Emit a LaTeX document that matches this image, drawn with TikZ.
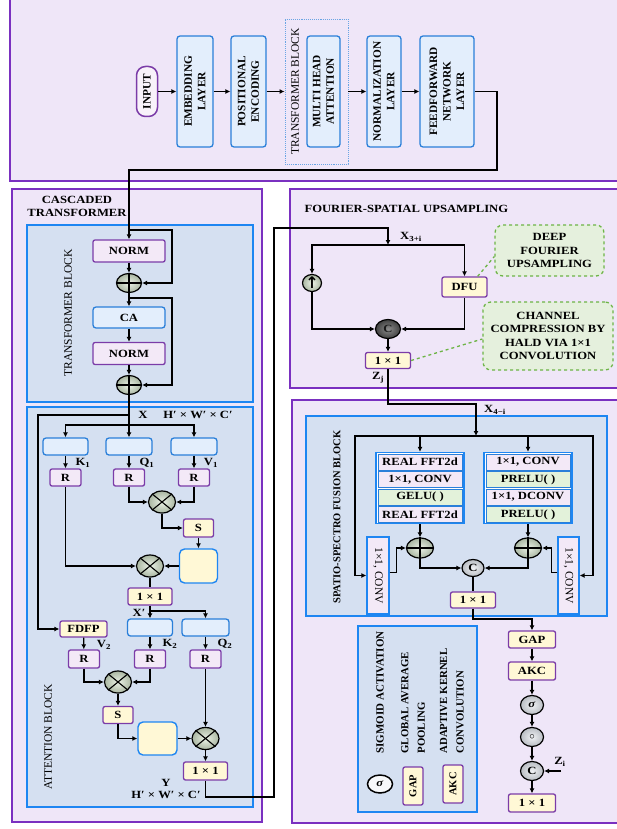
\documentclass[tikz,border=0pt]{standalone}
\usepackage{fontspec}
\setmainfont{Liberation Serif}[FakeStretch=1.15]
\newfontfamily\rotfont{Liberation Serif}
\newfontfamily\symfont{DejaVu Sans}
\usetikzlibrary{arrows.meta,shapes.geometric}
\definecolor{lav}{HTML}{EFE6F8}
\definecolor{pp}{HTML}{7A30C0}
\definecolor{blk}{HTML}{D5E0F1}
\definecolor{bb}{HTML}{1E86F2}
\definecolor{lb}{HTML}{E3EEFC}
\definecolor{bb2}{HTML}{2A7FD9}
\definecolor{lp}{HTML}{F3E9F7}
\definecolor{pb}{HTML}{7B3CA8}
\definecolor{yl}{HTML}{FFF8D6}
\definecolor{gc}{HTML}{D4E4CA}
\definecolor{gr}{HTML}{E3F2DA}
\definecolor{cof}{HTML}{E5F0DD}
\definecolor{cob}{HTML}{6DB446}
\definecolor{lg}{HTML}{D9DEE5}
\newcommand\myplus[1]{\draw[line width=1.1pt] (#1.north) -- (#1.south) (#1.west) -- (#1.east);}
\newcommand\mytimes[1]{\draw[line width=1.1pt] (#1.north east) -- (#1.south west) (#1.north west) -- (#1.south east);}
\begin{document}
\begin{tikzpicture}[x=1pt,y=-1pt,
 every node/.style={font=\bfseries\fontsize{11}{13}\selectfont},
 panel/.style={draw=pp,line width=1.8pt,fill=lav},
 block/.style={draw=bb,line width=1.4pt,fill=blk},
 bx/.style={draw=bb2,line width=1.3pt,fill=lb,rounded corners=3pt,inner sep=0pt},
 pbx/.style={draw=pb,line width=1.3pt,fill=lp,rounded corners=2pt,inner sep=0pt},
 ybx/.style={draw=pb,line width=1.3pt,fill=yl,rounded corners=2pt,inner sep=0pt},
 bigy/.style={draw=bb,line width=1.4pt,fill=yl,rounded corners=5pt,inner sep=0pt},
 opc/.style={ellipse,draw=black,line width=1.2pt,inner color=gc!45!white,outer color=gc!80!black,inner sep=0pt,minimum width=27pt,minimum height=22pt},
 gcirc/.style={ellipse,draw=black,line width=1.2pt,inner color=lg!40!white,outer color=lg!85!black,inner sep=0pt,minimum width=23pt,minimum height=19pt},
 srow/.style={draw=bb2,line width=0.9pt,fill=lp,minimum width=84pt,minimum height=16pt,inner sep=0pt},
 gsrow/.style={srow,fill=gr},
 rot/.style={rotate=90,align=center,font=\rotfont\bfseries\fontsize{10.5}{13.5}\selectfont},
 rott/.style={rotate=90,align=center,font=\rotfont\bfseries\fontsize{11.3}{13.5}\selectfont},
 rotr/.style={rotate=90,align=center,font=\rotfont\fontsize{11.5}{13}\selectfont},
 cbox/.style={draw=cob,dashed,line width=1.3pt,fill=cof,rounded corners=8pt,align=center,inner sep=0pt,font=\bfseries\fontsize{11}{13.5}\selectfont},
 dsh/.style={draw=cob,dashed,line width=1.3pt},
 arr/.style={-{Latex[length=5pt,width=5pt]},line width=1.2pt},
 ln/.style={line width=1.2pt},
 sm/.style={font=\bfseries\fontsize{11}{12}\selectfont,inner sep=0pt}
]
\useasboundingbox (0,0) rectangle (616,829);
\fill[white] (0,0) rectangle (616,829);

% ---------- panels ----------
\draw[panel] (10,-6) rectangle (634,181);
\draw[panel] (12,189) rectangle (262,822);
\draw[panel] (290,189) rectangle (634,388);
\draw[panel] (292,400) rectangle (634,823);
\draw[block] (27,225) rectangle (253,402);
\draw[block] (27,407) rectangle (253,807);
\draw[block] (306,416) rectangle (607,616);
\draw[block] (358,626) rectangle (477,812);

% ---------- top panel ----------
\node[draw=pb,line width=1.5pt,fill=lp!60,rounded corners=9pt,minimum width=21pt,minimum height=50pt,inner sep=0pt] (inp) at (147,91.5) {};
\node[rott] (inpt) at (inp) {INPUT};
\node[bx,minimum width=36pt,minimum height=111pt] (emb) at (195,91.5) {};
\node[rott] (embt) at (emb) {EMBEDDING\\LAYER};
\node[bx,minimum width=35pt,minimum height=111pt] (pos) at (248.5,91.5) {};
\node[rott] (post) at (pos) {POSITIONAL\\ENCODING};
\node[draw=bb2!70,densely dotted,line width=0.9pt,minimum width=63pt,minimum height=145pt,inner sep=0pt] (tbk) at (316.5,91.5) {};
\node[rotr] (tbkt) at (295,91.5) {TRANSFORMER BLOCK};
\node[bx,minimum width=33pt,minimum height=111pt] (mha) at (323.5,91.5) {};
\node[rott] (mhat) at (mha) {MULTI HEAD\\ATTENTION};
\node[bx,minimum width=34pt,minimum height=111pt] (nl) at (384,91.5) {};
\node[rott] (nlt) at (nl) {NORMALIZATION\\LAYER};
\node[bx,minimum width=54pt,minimum height=111pt] (ffn) at (447,91.5) {};
\node[rott] (ffnt) at (ffn) {FEEDFORWARD\\NETWORK\\LAYER};

% ---------- cascaded transformer ----------
\node[align=center,font=\bfseries\fontsize{11}{13}\selectfont] (ctt) at (77,206) {CASCADED\\TRANSFORMER};
\node[rotr] (tbt) at (68,313) {TRANSFORMER BLOCK};
\node[pbx,minimum width=72pt,minimum height=22pt] (n1) at (129,251) {NORM};
\node[opc,minimum width=25pt,minimum height=19pt] (p1) at (129,283) {};
\node[bx,minimum width=72pt,minimum height=21pt] (ca) at (129,317.5) {CA};
\node[pbx,minimum width=72pt,minimum height=22pt] (n2) at (129,353.5) {NORM};
\node[opc,minimum width=25pt,minimum height=19pt] (p2) at (129,385) {};
\myplus{p1}\myplus{p2}
\coordinate (s1) at (129,230);
\coordinate (s2) at (129,298);

\node[rotr] (abt) at (48,737) {ATTENTION BLOCK};
\coordinate (a0) at (129,415);
\coordinate (a1) at (129,425);
\node[sm] (xl) at (143,415) {X};
\node[sm] (hw1) at (198,415) {H′ × W′ × C′};
\node[bx,minimum width=45pt,minimum height=17pt] (kb) at (65.5,446.5) {};
\node[bx,minimum width=46pt,minimum height=17pt] (qb) at (129,446.5) {};
\node[bx,minimum width=46pt,minimum height=17pt] (vb) at (194,446.5) {};
\node[pbx,minimum width=31pt,minimum height=17pt] (kr) at (65.5,477.5) {R};
\node[pbx,minimum width=31pt,minimum height=17pt] (qr) at (129,477.5) {R};
\node[pbx,minimum width=31pt,minimum height=17pt] (vr) at (194,477.5) {R};
\node[sm] (k1l) at (83,463) {K\textsubscript{1}};
\node[sm] (q1l) at (147,463) {Q\textsubscript{1}};
\node[sm] (v1l) at (211,463) {V\textsubscript{1}};
\node[opc] (m1) at (162,502) {};
\node[ybx,minimum width=30pt,minimum height=18pt] (sb1) at (198.5,528) {S};
\node[bigy,minimum width=38pt,minimum height=34pt] (bg1) at (198.5,566) {};
\node[opc] (m2) at (150,566) {};
\node[ybx,minimum width=44pt,minimum height=17pt] (c1) at (150,596.5) {1 × 1};
\coordinate (x1) at (150,611);
\node[sm] (xpl) at (139,613) {X′};
\node[bx,minimum width=45pt,minimum height=17pt] (k2b) at (150,627.5) {};
\node[bx,minimum width=47pt,minimum height=17pt] (q2b) at (205.5,627.5) {};
\node[ybx,minimum width=47pt,minimum height=16pt] (fdfp) at (83.5,629) {FDFP};
\node[pbx,minimum width=31pt,minimum height=18pt] (v2r) at (84,659) {R};
\node[pbx,minimum width=31pt,minimum height=18pt] (k2r) at (150,659) {R};
\node[pbx,minimum width=31pt,minimum height=18pt] (q2r) at (205.5,659) {R};
\node[sm] (v2l) at (104,645) {V\textsubscript{2}};
\node[sm] (k2l) at (170,644) {K\textsubscript{2}};
\node[sm] (q2l) at (225,644) {Q\textsubscript{2}};
\node[opc] (m3) at (118,682) {};
\node[ybx,minimum width=30pt,minimum height=17pt] (sb2) at (118,715) {S};
\node[bigy,minimum width=39pt,minimum height=33pt] (bg2) at (157.5,738.5) {};
\node[opc] (m4) at (205.5,738.5) {};
\node[ybx,minimum width=44pt,minimum height=18pt] (c2) at (205.5,771) {1 × 1};
\node[sm] (yl) at (166,783) {Y};
\node[sm] (hw2) at (166,795) {H′ × W′ × C′};
\mytimes{m1}\mytimes{m2}\mytimes{m3}\mytimes{m4}

% ---------- fourier-spatial upsampling ----------
\node[anchor=west] (fst) at (301,209) {FOURIER-SPATIAL UPSAMPLING};
\coordinate (fs) at (388,245);
\node[sm] (x3l) at (411,237) {X\textsubscript{3+i}};
\node[opc,minimum width=19pt,minimum height=17pt,font=\symfont\bfseries\fontsize{16}{16}\selectfont] (upc) at (312,283) {↑};
\node[ybx,minimum width=45pt,minimum height=20pt] (dfu) at (464.5,287) {DFU};
\node[ellipse,draw=black,line width=1.2pt,inner color=black!45,outer color=black!75,text=black!90,inner sep=0pt,minimum width=25pt,minimum height=19pt] (cc) at (388,329) {C};
\node[ybx,minimum width=45pt,minimum height=16pt] (c3) at (388,360.5) {1 × 1};
\node[sm] (zjl) at (378,378) {Z\textsubscript{j}};
\node[cbox,minimum width=109pt,minimum height=51pt] (cl1) at (549.5,250.5) {DEEP\\FOURIER\\UPSAMPLING};
\node[cbox,minimum width=130pt,minimum height=68pt] (cl2) at (548,336) {CHANNEL\\COMPRESSION BY\\HALD VIA 1×1\\CONVOLUTION};

% ---------- spatio-spectro fusion ----------
\node[rot,font=\rotfont\bfseries\fontsize{10.5}{12}\selectfont] (sst) at (337,517) {SPATIO-SPECTRO FUSION BLOCK};
\coordinate (ssp) at (476,436);
\node[sm] (x4l) at (495,410) {X\textsubscript{4−i}};
\node[draw=bb,line width=1.3pt,fill=white,minimum width=88pt,minimum height=71pt,inner sep=0pt] (lst) at (420,488) {};
\node[srow] (l1) at (420,462) {REAL FFT2d};
\node[srow] (l2) at (420,479.5) {1×1, CONV};
\node[gsrow] (l3) at (420,497) {GELU( )};
\node[srow] (l4) at (420,514.5) {REAL FFT2d};
\node[draw=bb,line width=1.3pt,fill=white,minimum width=88pt,minimum height=71pt,inner sep=0pt] (rst) at (528,488) {};
\node[srow] (r1) at (528,462) {1×1, CONV};
\node[gsrow] (r2) at (528,479.5) {PRELU( )};
\node[srow] (r3) at (528,497) {1×1, DCONV};
\node[gsrow] (r4) at (528,514.5) {PRELU( )};
\node[opc,minimum width=27pt,minimum height=20pt] (pl) at (420,548) {};
\node[opc,minimum width=27pt,minimum height=20pt] (pr) at (528,548) {};
\myplus{pl}\myplus{pr}
\node[draw=bb,line width=1.3pt,fill=lp,minimum width=22pt,minimum height=77pt,inner sep=0pt] (lcv) at (378,575.5) {};
\node[rotate=-90,font=\rotfont\fontsize{11.5}{12}\selectfont] (lcvt) at (lcv) {1×1, CONV};
\node[draw=bb,line width=1.3pt,fill=lp,minimum width=21pt,minimum height=77pt,inner sep=0pt] (rcv) at (568.5,575.5) {};
\node[rotate=-90,font=\rotfont\fontsize{11.5}{12}\selectfont] (rcvt) at (rcv) {1×1, CONV};
\node[gcirc,minimum width=22pt,minimum height=17pt] (cs) at (473,568) {C};
\node[ybx,minimum width=45pt,minimum height=16pt] (c4) at (473,600) {1 × 1};

% ---------- right column ----------
\node[ybx,minimum width=47pt,minimum height=17pt] (gap) at (532,639.5) {GAP};
\node[ybx,minimum width=47pt,minimum height=18pt] (akc) at (532,671) {AKC};
\node[gcirc] (sg) at (532,705) {\textit{σ}};
\node[gcirc] (hd) at (532,737) {$\circ$};
\node[gcirc] (cc2) at (532,771) {C};
\node[ybx,minimum width=47pt,minimum height=18pt] (c5) at (532,803) {1 × 1};
\coordinate (zi) at (561,771);
\node[sm] (zil) at (560,762) {Z\textsubscript{i}};

% ---------- legend ----------
\node[ellipse,draw=black,line width=1.5pt,fill=white!80!lg,inner sep=0pt,minimum width=25pt,minimum height=18pt] (lsg) at (380,784) {\textit{σ}};
\node[rot,anchor=west,font=\rotfont\bfseries\fontsize{11}{12}\selectfont] (lt1) at (380,757) {SIGMOID ACTIVATION};
\node[ybx,minimum width=20pt,minimum height=38pt] (lgap) at (413,786) {};
\node[rot] (lgapt) at (lgap) {GAP};
\node[rot,anchor=west,align=left,font=\rotfont\bfseries\fontsize{10.8}{16.5}\selectfont] (lt2) at (413,757) {GLOBAL AVERAGE\\POOLING};
\node[ybx,minimum width=20pt,minimum height=38pt] (lakc) at (453,784) {};
\node[rot] (lakct) at (lakc) {AKC};
\node[rot,anchor=west,align=left,font=\rotfont\bfseries\fontsize{10.8}{16.5}\selectfont] (lt3) at (452,757) {ADAPTIVE KERNEL\\CONVOLUTION};

% ---------- connectors ----------
\draw[arr] (inp) -- (emb);
\draw[arr] (emb) -- (pos);
\draw[arr] (pos) -- (tbk);
\draw[arr] (tbk) -- (nl);
\draw[arr] (nl) -- (ffn);
\draw[arr] (ffn.east) -- (497,91.5) |- (129,170) -- (n1.north);
\draw[arr] (n1) -- (p1);
\draw[arr] (s1) -- (172,230) |- (p1.east);
\draw[arr] (p1) -- (ca);
\draw[arr] (ca) -- (n2);
\draw[arr] (n2) -- (p2);
\draw[arr] (s2) -- (172,298) |- (p2.east);
\draw[arr] (p2) -- (qb);
\draw[arr] (a0) -- (38,415) |- (fdfp.west);
\draw[arr] (a1) -| (kb.north);
\draw[arr] (a1) -| (vb.north);
\draw[arr] (kb) -- (kr);
\draw[arr] (qb) -- (qr);
\draw[arr] (vb) -- (vr);
\draw[arr] (qr.south) |- (m1.west);
\draw[arr] (vr.south) |- (m1.east);
\draw[arr] (m1.south) |- (sb1.west);
\draw[arr] (sb1) -- (bg1);
\draw[arr] (bg1) -- (m2);
\draw[arr] (kr.south) |- (m2.west);
\draw[ln] (m2) -- (c1);
\draw[ln] (c1.south) -- (x1);
\draw[arr] (x1) -- (k2b.north);
\draw[arr] (x1) -| (q2b.north);
\draw[arr] (fdfp) -- (v2r);
\draw[arr] (k2b) -- (k2r);
\draw[arr] (q2b) -- (q2r);
\draw[arr] (v2r.south) |- (m3.west);
\draw[arr] (k2r.south) |- (m3.east);
\draw[arr] (m3) -- (sb2);
\draw[arr] (sb2.south) |- (bg2.west);
\draw[arr] (bg2) -- (m4);
\draw[arr] (q2r) -- (m4);
\draw[arr] (m4) -- (c2);
\draw[arr] (c2.south) |- (274,797) -- (274,228) -| (fs);
\draw[arr] (fs) -| (upc.north);
\draw[arr] (fs) -| (dfu.north);
\draw[arr] (upc.south) |- (cc.west);
\draw[arr] (dfu.south) |- (cc.east);
\draw[arr] (cc) -- (c3);
\draw[dsh] ([xshift=-10pt]dfu.north east) -- ([yshift=-6pt]cl1.west);
\draw[dsh] (c3.east) -- ([yshift=-3pt]cl2.west);
\draw[arr] (c3.south) |- (476,404) -- (ssp);
\draw[arr] (ssp) -| (lst.north);
\draw[arr] (ssp) -| (rst.north);
\draw[arr] (ssp) -- (355,436) |- (lcv.west);
\draw[arr] (ssp) -- (593,436) |- (rcv.east);
\draw[arr] (lst.south) -- (pl.north);
\draw[arr] (rst.south) -- (pr.north);
\draw[arr] ([yshift=3pt]lcv.east) -- ++(7,0) |- (pl.west);
\draw[arr] ([yshift=3pt]rcv.west) -- ++(-6,0) |- (pr.east);
\draw[arr] (pl.south) |- (cs.west);
\draw[arr] (pr.south) |- (cs.east);
\draw[ln] (cs) -- (c4);
\draw[arr] (c4.south) |- (532,619) -- (gap.north);
\draw[arr] (gap) -- (akc);
\draw[arr] (akc) -- (sg);
\draw[arr] (sg) -- (hd);
\draw[arr] (hd) -- (cc2);
\draw[arr] (cc2) -- (c5);
\draw[arr] (zi) -- (cc2.east);
\end{tikzpicture}
\end{document}
